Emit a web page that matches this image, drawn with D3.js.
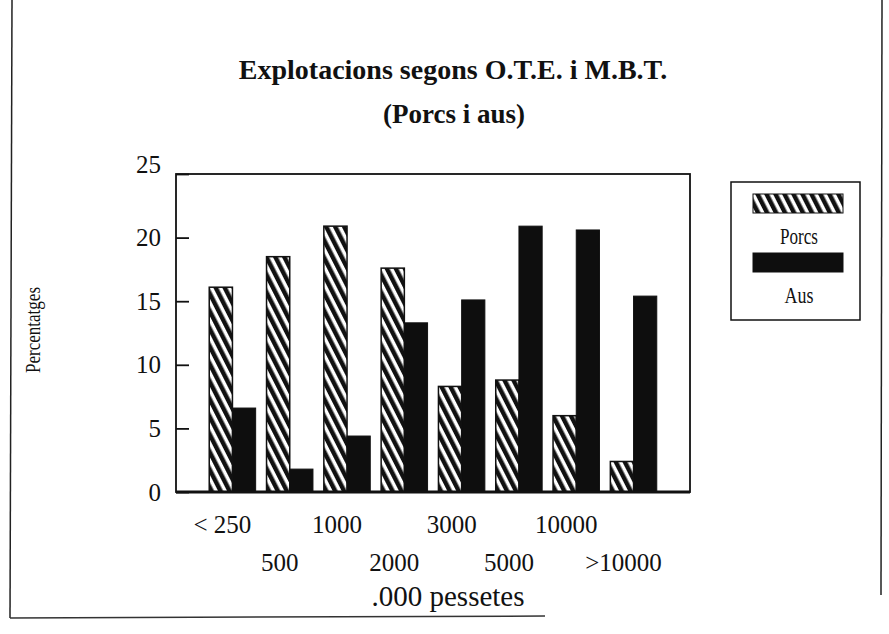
<!DOCTYPE html>
<html>
<head>
<meta charset="utf-8">
<script src="https://cdn.jsdelivr.net/npm/d3@7"></script>
<style>
  body { margin: 0; background: #fff; }
  text { font-family: "Liberation Serif", "Times New Roman", serif; fill: #111; }
</style>
</head>
<body>
<div id="chart"></div>
<script>
// data
var categories = ["< 250", "500", "1000", "2000", "3000", "5000", "10000", ">10000"];
var porcs = [16.1, 18.5, 20.9, 17.6, 8.3, 8.8, 6.0, 2.4];
var aus = [6.6, 1.8, 4.4, 13.3, 15.1, 20.9, 20.6, 15.4];
var seriesNames = ["Porcs", "Aus"];
var yTicks = [0, 5, 10, 15, 20, 25];

var svgWidth = 889;
var svgHeight = 634;

var margin = { top: 174, right: 199, bottom: 142, left: 176 };
var width = svgWidth - margin.left - margin.right;
var height = svgHeight - margin.top - margin.bottom;

var svg = d3.select("#chart")
  .append("svg")
  .attr("width", svgWidth)
  .attr("height", svgHeight);

// hatch pattern for the Porcs bars
var defs = svg.append("defs");
var hatch = defs.append("pattern")
  .attr("id", "hatch")
  .attr("patternUnits", "userSpaceOnUse")
  .attr("width", 8)
  .attr("height", 8)
  .attr("patternTransform", "rotate(-27)");
hatch.append("rect").attr("width", 8).attr("height", 8).attr("fill", "#fff");
hatch.append("rect").attr("width", 4.5).attr("height", 8).attr("fill", "#111");

// page border lines from the scan
svg.append("line").attr("x1", 12).attr("y1", 0).attr("x2", 10).attr("y2", 618)
  .attr("stroke", "#222").attr("stroke-width", 1.5);
svg.append("line").attr("x1", 10).attr("y1", 618).attr("x2", 545).attr("y2", 616)
  .attr("stroke", "#333").attr("stroke-width", 1.5);
svg.append("line").attr("x1", 882).attr("y1", 0).attr("x2", 881).attr("y2", 595)
  .attr("stroke", "#222").attr("stroke-width", 1.5);

// titles
svg.append("text")
  .attr("x", 453).attr("y", 79)
  .attr("text-anchor", "middle")
  .attr("font-size", "28px")
  .attr("font-weight", "bold")
  .text("Explotacions segons O.T.E. i M.B.T.");

svg.append("text")
  .attr("x", 454).attr("y", 123)
  .attr("text-anchor", "middle")
  .attr("font-size", "27px")
  .attr("font-weight", "bold")
  .text("(Porcs i aus)");

var chartGroup = svg.append("g")
  .attr("transform", `translate(${margin.left}, ${margin.top})`);

// scales
var x0 = d3.scaleBand()
  .domain(categories)
  .range([0, width])
  .paddingInner(0.19)
  .paddingOuter(0.58);

var x1 = d3.scaleBand()
  .domain(seriesNames)
  .range([0, x0.bandwidth()]);

var yLinearScale = d3.scaleLinear()
  .domain([0, 25])
  .range([height, 0]);

// bars
var groups = chartGroup.selectAll(".group")
  .data(categories)
  .enter()
  .append("g")
  .attr("class", "group")
  .attr("transform", d => `translate(${x0(d)}, 0)`);

groups.append("rect")
  .attr("x", x1("Porcs"))
  .attr("y", (d, i) => yLinearScale(porcs[i]))
  .attr("width", x1.bandwidth())
  .attr("height", (d, i) => height - yLinearScale(porcs[i]))
  .attr("fill", "url(#hatch)")
  .attr("stroke", "#111")
  .attr("stroke-width", 1.5);

groups.append("rect")
  .attr("x", x1("Aus"))
  .attr("y", (d, i) => yLinearScale(aus[i]))
  .attr("width", x1.bandwidth())
  .attr("height", (d, i) => height - yLinearScale(aus[i]))
  .attr("fill", "#0e0e0e")
  .attr("stroke", "#111")
  .attr("stroke-width", 1);

// plot frame
chartGroup.append("rect")
  .attr("width", width)
  .attr("height", height)
  .attr("fill", "none")
  .attr("stroke", "#111")
  .attr("stroke-width", 1.8);

chartGroup.append("line")
  .attr("x1", 0).attr("x2", width)
  .attr("y1", height).attr("y2", height)
  .attr("stroke", "#111")
  .attr("stroke-width", 3);

// y axis with inward ticks
var leftAxis = d3.axisLeft(yLinearScale)
  .tickValues(yTicks)
  .tickSizeInner(-13)
  .tickSizeOuter(0)
  .tickPadding(15);

var yAxis = chartGroup.append("g").call(leftAxis);
yAxis.select(".domain").remove();
yAxis.selectAll("line").attr("stroke", "#111").attr("stroke-width", 1.8);
yAxis.selectAll("text")
  .attr("font-family", "Liberation Serif, serif")
  .attr("font-size", "25px")
  .attr("fill", "#111")
  .attr("dy", d => d === 25 ? "-0.05em" : "0.32em");

// x labels, staggered in two rows
chartGroup.selectAll(".xlabel")
  .data(categories)
  .enter()
  .append("text")
  .attr("class", "xlabel")
  .attr("x", d => x0(d) + x0.bandwidth() / 2 - 10)
  .attr("y", (d, i) => height + (i % 2 === 0 ? 41 : 79))
  .attr("text-anchor", "middle")
  .attr("font-size", "25px")
  .text(d => d);

chartGroup.append("text")
  .attr("x", 272)
  .attr("y", height + 114)
  .attr("text-anchor", "middle")
  .attr("font-size", "29px")
  .text(".000 pessetes");

// y axis title
svg.append("text")
  .attr("transform", "translate(40, 330) rotate(-90)")
  .attr("text-anchor", "middle")
  .attr("font-size", "22px")
  .attr("textLength", 86)
  .attr("lengthAdjust", "spacingAndGlyphs")
  .text("Percentatges");

// legend
var legend = svg.append("g").attr("transform", "translate(731, 182)");
legend.append("rect")
  .attr("width", 129).attr("height", 138)
  .attr("fill", "#fff")
  .attr("stroke", "#111")
  .attr("stroke-width", 1.5);

var legendFills = ["url(#hatch)", "#0e0e0e"];
var legendItems = legend.selectAll(".item")
  .data(seriesNames)
  .enter()
  .append("g")
  .attr("class", "item")
  .attr("transform", (d, i) => `translate(0, ${i * 59})`);

legendItems.append("rect")
  .attr("x", 22).attr("y", 12)
  .attr("width", 90).attr("height", 19)
  .attr("fill", (d, i) => legendFills[i])
  .attr("stroke", "#111")
  .attr("stroke-width", 1);

legendItems.append("text")
  .attr("x", 68).attr("y", 62)
  .attr("text-anchor", "middle")
  .attr("font-size", "23px")
  .attr("textLength", d => d === "Porcs" ? 38 : 29)
  .attr("lengthAdjust", "spacingAndGlyphs")
  .text(d => d);
</script>
</body>
</html>
